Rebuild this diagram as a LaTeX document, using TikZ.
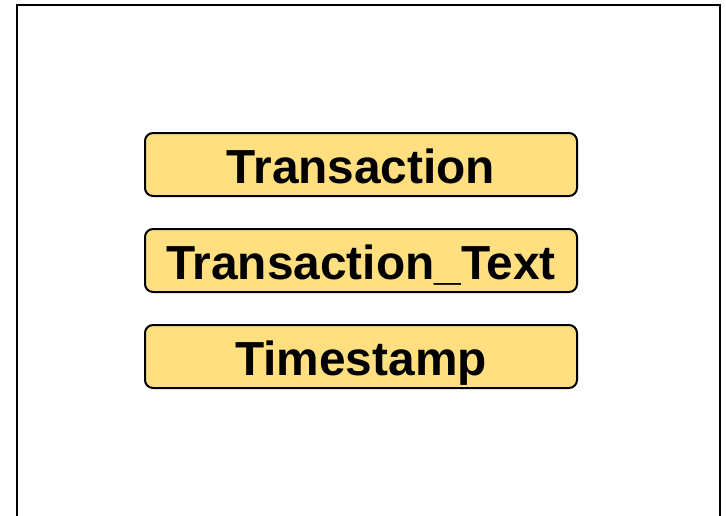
\documentclass[tikz,border=0pt]{standalone}
\usepackage{fontspec}
\setmainfont{Liberation Sans}
\definecolor{tablefill}{RGB}{255,223,128}
\tikzset{
  tablebox/.style={draw=black, line width=2pt, fill=tablefill, rounded corners=8pt,
    minimum width=432pt, minimum height=63pt, inner sep=0pt,
    text height=37pt, text depth=0pt,
    font=\fontsize{47.8}{48}\selectfont\bfseries},
  frameline/.style={draw=black, line width=2.8pt}
}
\begin{document}
\begin{tikzpicture}[x=1pt,y=-1pt]
  \useasboundingbox (0,0) rectangle (726,515);
  \clip (0,0) rectangle (726,515);
  % outer frame, running past the lower edge
  \draw[frameline] (17,5) rectangle (720,540);
  \node[tablebox] (trans) at (361,164.5) {Transaction};
  \node[tablebox] (transtext) at (361,260.5) {Transaction\_Text};
  \node[tablebox] (stamp) at (361,356.5) {Timestamp};
\end{tikzpicture}
\end{document}
